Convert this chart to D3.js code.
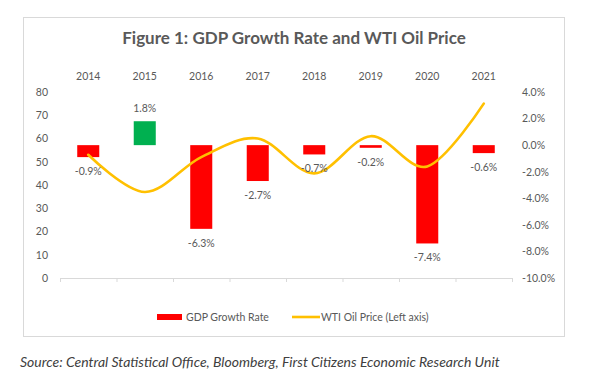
<!DOCTYPE html>
<html>
<head>
<meta charset="utf-8">
<script src="https://cdn.jsdelivr.net/npm/d3@7"></script>
<style>
  body { margin: 0; background: #fff; }
  svg text { font-family: Lato, "Open Sans", sans-serif; fill: #595959; }
</style>
</head>
<body>
<svg width="592" height="375"></svg>
<script>
// data
const years = ['2014', '2015', '2016', '2017', '2018', '2019', '2020', '2021'];
const gdpGrowth = [-0.9, 1.8, -6.3, -2.7, -0.7, -0.2, -7.4, -0.6];
const wtiPrice = [53, 37, 52, 60, 45, 61, 48, 75];
const leftTicks = [0, 10, 20, 30, 40, 50, 60, 70, 80];
const rightTicks = [-10, -8, -6, -4, -2, 0, 2, 4];

const svg = d3.select('svg');

// chart frame
svg.append('rect')
  .attr('x', 23.5)
  .attr('y', 17.5)
  .attr('width', 541)
  .attr('height', 319)
  .attr('fill', '#fff')
  .attr('stroke', '#d9d9d9');

svg.append('text')
  .attr('x', 294)
  .attr('y', 44)
  .attr('text-anchor', 'middle')
  .attr('font-size', 17)
  .attr('font-weight', 'bold')
  .text('Figure 1: GDP Growth Rate and WTI Oil Price');

const plotLeft = 60, plotRight = 512, plotTop = 92, plotBottom = 278;

const x = d3.scaleBand()
  .domain(years)
  .range([plotLeft, plotRight])
  .paddingInner(0.61)
  .paddingOuter(0.305);

const xEdge = d3.scaleLinear().domain([0, years.length]).range([plotLeft, plotRight]);

const yLeft = d3.scaleLinear().domain([0, 80]).range([plotBottom, plotTop]);
const yRight = d3.scaleLinear().domain([-10, 4]).range([plotBottom, plotTop]);

const cx = d => x(d) + x.bandwidth() / 2;

// bottom axis line with boundary ticks
const xAxis = svg.append('g')
  .attr('transform', `translate(0,${plotBottom})`)
  .call(d3.axisBottom(xEdge)
    .tickValues(d3.range(years.length + 1))
    .tickSize(4)
    .tickSizeOuter(4)
    .tickFormat(''));
xAxis.selectAll('path, line').attr('stroke', '#d9d9d9');

// category labels sit on top
const topAxis = svg.append('g')
  .attr('transform', 'translate(0,80)')
  .call(d3.axisTop(x).tickSize(0).tickPadding(0));
topAxis.select('.domain').remove();
topAxis.selectAll('text')
  .attr('font-size', 10.5)
  .attr('fill', '#595959')
  .style('font-family', 'Lato, sans-serif');

const leftAxis = svg.append('g')
  .attr('transform', `translate(${plotLeft},0)`)
  .call(d3.axisLeft(yLeft).tickValues(leftTicks).tickSize(0).tickPadding(12));
leftAxis.select('.domain').remove();
leftAxis.selectAll('text')
  .attr('font-size', 10.5)
  .attr('fill', '#595959')
  .style('font-family', 'Lato, sans-serif');

const rightAxis = svg.append('g')
  .attr('transform', `translate(${plotRight},0)`)
  .call(d3.axisRight(yRight)
    .tickValues(rightTicks)
    .tickSize(0)
    .tickPadding(10)
    .tickFormat(d => d.toFixed(1) + '%'));
rightAxis.select('.domain').remove();
rightAxis.selectAll('text')
  .attr('font-size', 10.5)
  .attr('fill', '#595959')
  .style('font-family', 'Lato, sans-serif');

const rows = years.map((y, i) => ({ year: y, gdp: gdpGrowth[i], wti: wtiPrice[i] }));

// bars
svg.append('g')
  .selectAll('rect')
  .data(rows)
  .join('rect')
    .attr('x', d => x(d.year))
    .attr('width', x.bandwidth())
    .attr('y', d => yRight(Math.max(0, d.gdp)))
    .attr('height', d => Math.abs(yRight(d.gdp) - yRight(0)))
    .attr('fill', d => d.gdp >= 0 ? '#00b050' : '#ff0000');

// oil price line
const line = d3.line()
  .x(d => cx(d.year))
  .y(d => yLeft(d.wti))
  .curve(d3.curveCatmullRom.alpha(0));

svg.append('path')
  .datum(rows)
  .attr('d', line)
  .attr('fill', 'none')
  .attr('stroke', '#ffc000')
  .attr('stroke-width', 2.6)
  .attr('stroke-linecap', 'round');

// bar labels
svg.append('g')
  .selectAll('text')
  .data(rows)
  .join('text')
    .attr('x', d => cx(d.year))
    .attr('y', d => d.gdp >= 0 ? yRight(d.gdp) - 9 : yRight(d.gdp) + 18)
    .attr('text-anchor', 'middle')
    .attr('font-size', 10.5)
    .text(d => d.gdp.toFixed(1) + '%');

// legend
const legend = svg.append('g');
legend.append('rect')
  .attr('x', 157)
  .attr('y', 314)
  .attr('width', 25)
  .attr('height', 6)
  .attr('fill', '#ff0000');
legend.append('text')
  .attr('x', 186)
  .attr('y', 321)
  .attr('font-size', 10.5)
  .text('GDP Growth Rate');
legend.append('line')
  .attr('x1', 292)
  .attr('x2', 320)
  .attr('y1', 317)
  .attr('y2', 317)
  .attr('stroke', '#ffc000')
  .attr('stroke-width', 2.6);
legend.append('text')
  .attr('x', 321)
  .attr('y', 321)
  .attr('font-size', 10.5)
  .text('WTI Oil Price (Left axis)');

// source note
svg.append('text')
  .attr('x', 20)
  .attr('y', 367)
  .attr('font-size', 14)
  .attr('font-style', 'italic')
  .style('fill', '#404040')
  .text('Source: Central Statistical Office, Bloomberg, First Citizens Economic Research Unit');
</script>
</body>
</html>
